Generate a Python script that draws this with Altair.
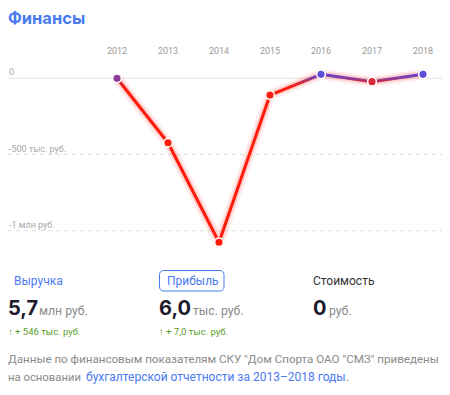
import altair as alt
import pandas as pd

# ---- data ----
years = [2012, 2013, 2014, 2015, 2016, 2017, 2018]
profit = [0, -423000, -1076000, -110000, 26000, -22000, 26000]

grid_values = [0, -500000, -1000000]
grid_labels = ["0", "-500 тыс. руб.", "-1 млн руб."]

metric_names = ["Выручка", "Прибыль", "Стоимость"]
metric_values = ["5,7", "6,0", "0"]
metric_units = ["млн руб.", "тыс. руб.", "руб."]
metric_changes = ["↑ + 546 тыс. руб.", "↑ + 7,0 тыс. руб.", ""]

title_text = "Финансы"
footer_line1 = 'Данные по финансовым показателям СКУ "Дом Спорта ОАО "СМЗ" приведены'
footer_line2_a = "на основании "
footer_line2_link = "бухгалтерской отчетности за 2013–2018 годы"
footer_line2_b = "."

FONT = "Roboto"
TFONT = "Inter"
BLUE = "#4a7af2"
TOP = 6   # top padding
LEFT = 4  # left padding; positions below are page coords minus 8

df = pd.DataFrame({"year": years, "value": profit})
grid_df = pd.DataFrame({"value": grid_values, "label": grid_labels})
year_df = pd.DataFrame({"year": years, "label": [str(y) for y in years]})
one = pd.DataFrame({"k": [0]})

xs = alt.Scale(domain=[2012, 2018], range=[109 - LEFT, 415 - LEFT], nice=False, zero=False)
ys = alt.Scale(domain=[-1000000, 0], range=[222.7 - TOP, 70.3 - TOP], nice=False, zero=False)
X = alt.X("year:Q", scale=xs, axis=None)
Y = alt.Y("value:Q", scale=ys, axis=None)

zero_rule = alt.Chart(grid_df).transform_filter("datum.value == 0").mark_rule(
    color="#ebebeb", strokeWidth=1.5
).encode(y=Y, x=alt.value(0 - LEFT), x2=alt.value(439 - LEFT))

dash_rule = alt.Chart(grid_df).transform_filter("datum.value != 0").mark_rule(
    color="#dedede", strokeWidth=1, strokeDash=[4, 4]
).encode(y=Y, x=alt.value(0 - LEFT), x2=alt.value(439 - LEFT))

grid_text = alt.Chart(grid_df).mark_text(
    align="left", baseline="middle", dy=-6, fontSize=9, font=FONT, color="#a8a8a8"
).encode(y=Y, x=alt.value(1 - LEFT), text="label:N")

year_text = alt.Chart(year_df).mark_text(
    align="center", baseline="middle", fontSize=9, font=FONT, color="#9a9a9a"
).encode(x=X, y=alt.value(43 - TOP), text="label:N")

grad = alt.Gradient(
    gradient="linear",
    stops=[
        alt.GradientStop(offset=0.0, color="#6a45c8"),
        alt.GradientStop(offset=0.025, color="#8a3a9a"),
        alt.GradientStop(offset=0.045, color="#d02840"),
        alt.GradientStop(offset=0.08, color="#ff1a0a"),
        alt.GradientStop(offset=1.0, color="#ff1a0a"),
    ],
    x1=0, x2=0, y1=0, y2=1,
)

glow1 = alt.Chart(df).mark_line(color="#ff2a1a", strokeWidth=11, opacity=0.08,
                                strokeJoin="round", strokeCap="round").encode(x=X, y=Y)
glow2 = alt.Chart(df).mark_line(color="#ff2a1a", strokeWidth=6.5, opacity=0.15,
                                strokeJoin="round", strokeCap="round").encode(x=X, y=Y)
line = alt.Chart(df).mark_line(color=grad, strokeWidth=3,
                               strokeJoin="round").encode(x=X, y=Y)

points = alt.Chart(df).mark_point(filled=True, size=75, stroke="white",
                                  strokeWidth=1.5, opacity=1).encode(
    x=X, y=Y,
    fill=alt.Fill("value:Q", legend=None, scale=alt.Scale(
        domain=[-120000, -22000, 0, 26000],
        range=["#ff1a0a", "#d8283a", "#8a3a9a", "#5b4fd6"], clamp=True)),
)

layers = [zero_rule, dash_rule, grid_text, year_text, glow1, glow2, line, points]


def txt(s, x, y, size, color, weight="normal", font=FONT):
    return alt.Chart(one).mark_text(
        align="left", baseline="alphabetic", fontSize=size, font=font,
        color=color, fontWeight=weight, text=s
    ).encode(x=alt.value(x - LEFT), y=alt.value(y - TOP))


layers.append(txt(title_text, 0, 15.5, 16.5, BLUE, "bold", TFONT))

box = alt.Chart(one).mark_rect(
    fill=None, stroke=BLUE, strokeWidth=1, cornerRadius=4, fillOpacity=0
).encode(x=alt.value(151.5 - LEFT), x2=alt.value(216 - LEFT),
         y=alt.value(262.5 - TOP), y2=alt.value(283 - TOP))
layers.append(box)

name_x = [6, 159, 305]
name_col = [BLUE, BLUE, "#333333"]
val_x = [0, 151, 305]
unit_x = [31, 185, 321]
chg_x = [0, 151]
for i in range(3):
    layers.append(txt(metric_names[i], name_x[i], 277, 12, name_col[i]))
    layers.append(txt(metric_values[i], val_x[i], 307, 20, "#1c1c2e", "bold", TFONT))
    layers.append(txt(metric_units[i], unit_x[i], 307, 12.2, "#8a8a8a"))
    if metric_changes[i]:
        layers.append(txt(metric_changes[i], chg_x[i], 327, 9.5, "#5aa02a"))

layers.append(txt(footer_line1, 0, 355, 11.6, "#8a8a8a"))
layers.append(txt(footer_line2_a, 0, 373, 11.3, "#8a8a8a"))
layers.append(txt(footer_line2_link, 78, 373, 12, BLUE))
layers.append(txt(footer_line2_b, 338, 373, 12, "#8a8a8a"))

chart = alt.layer(*layers).properties(
    width=434 - LEFT, height=379 - TOP, autosize=alt.AutoSizeParams(type="none"),
    padding={"left": LEFT, "top": TOP, "right": 0, "bottom": 0}
).configure_view(stroke=None)

chart.save("out.html", embed_options={"renderer": "svg", "actions": False})
